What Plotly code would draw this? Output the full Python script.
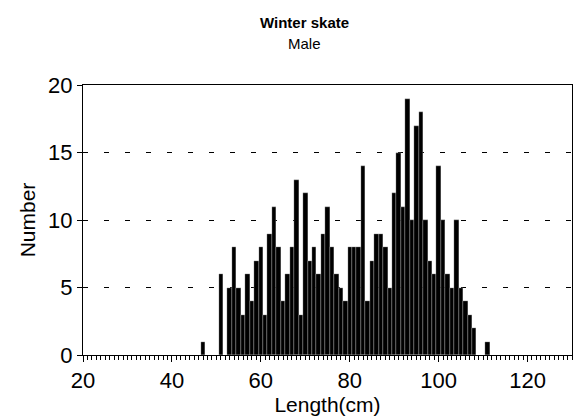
import plotly.graph_objects as go

# Length-frequency of male winter skate, 1 cm bins
length_cm = [47, 51, 53, 54, 55, 56, 57, 58, 59, 60, 61, 62, 63, 64, 65, 66,
             67, 68, 69, 70, 71, 72, 73, 74, 75, 76, 77, 78, 79, 80, 81, 82,
             83, 84, 85, 86, 87, 88, 89, 90, 91, 92, 93, 94, 95, 96, 97, 98,
             99, 100, 101, 102, 103, 104, 105, 106, 107, 108, 111]
number = [1, 6, 5, 8, 5, 3, 6, 4, 7, 8, 3, 9, 11, 8, 4, 6,
          8, 13, 3, 12, 7, 8, 6, 9, 11, 8, 6, 5, 4, 8, 8, 8,
          14, 4, 7, 9, 9, 8, 5, 12, 15, 11, 19, 10, 17, 18, 10, 7,
          6, 14, 10, 6, 5, 10, 5, 4, 3, 2, 1]

x_ticks = [20, 40, 60, 80, 100, 120]
y_ticks = [0, 5, 10, 15, 20]

FONT = "Liberation Sans, Arial, Helvetica, sans-serif"

fig = go.Figure(
    go.Bar(
        x=length_cm,
        y=number,
        width=1,
        marker=dict(color="black", line=dict(color="white", width=0.25)),
    )
)

fig.update_layout(
    width=574,
    height=417,
    margin=dict(l=83, r=2, t=85, b=62),
    paper_bgcolor="white",
    plot_bgcolor="white",
    showlegend=False,
    bargap=0,
    font=dict(family=FONT, color="black"),
    annotations=[
        dict(text="<b>Winter skate</b>", xref="paper", yref="paper",
             x=0.452, y=1, yshift=73, showarrow=False,
             font=dict(size=15, family=FONT)),
        dict(text="Male", xref="paper", yref="paper",
             x=0.452, y=1, yshift=52, showarrow=False,
             font=dict(size=15, family=FONT)),
    ],
)

fig.update_xaxes(
    range=[20, 130],
    tickvals=x_ticks,
    ticks="outside",
    ticklen=6,
    tickcolor="black",
    showline=True,
    linecolor="black",
    linewidth=1,
    mirror=True,
    showgrid=False,
    zeroline=False,
    tickfont=dict(size=22),
    title=dict(text="Length(cm)", font=dict(size=21), standoff=0),
    minor=dict(dtick=1, ticks="outside", ticklen=4, tickcolor="black",
               showgrid=False),
)

fig.update_yaxes(
    range=[0, 20],
    tickvals=y_ticks,
    ticks="outside",
    ticklen=5,
    tickcolor="black",
    showline=True,
    linecolor="black",
    linewidth=1,
    mirror=True,
    showgrid=True,
    gridcolor="black",
    gridwidth=1,
    griddash="5px,16px",
    zeroline=False,
    tickfont=dict(size=22),
    title=dict(text="Number", font=dict(size=21), standoff=6),
)

fig.write_html("out.html")
